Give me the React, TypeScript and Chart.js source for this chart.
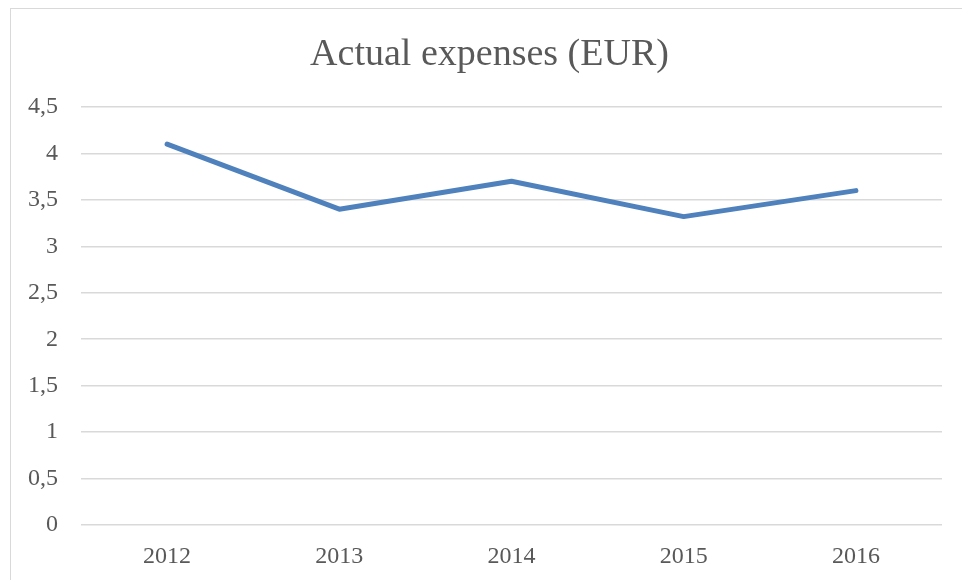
import React, { useEffect, useRef } from "react";
import { Chart, registerables } from "chart.js";

Chart.register(...registerables);

const categories = ["2012", "2013", "2014", "2015", "2016"];
const expenses = [4.1, 3.4, 3.7, 3.32, 3.6];
const titleText = "Actual expenses (EUR)";

const FONT = '"Liberation Serif", "Times New Roman", serif';
const TEXT = "#595959";
const GRID = "#d9d9d9";

// Title drawn centred over the chart frame (which begins at x=10 and runs past the image edge)
const titlePlugin = {
  id: "frameTitle",
  afterDraw(chart: any) {
    const ctx = chart.ctx;
    ctx.save();
    ctx.fillStyle = TEXT;
    ctx.font = `38px ${FONT}`;
    ctx.textAlign = "center";
    ctx.textBaseline = "alphabetic";
    const cx = (chart.chartArea.left + chart.chartArea.right) / 2 - 22;
    ctx.fillText(titleText, cx, 65);
    ctx.restore();
  },
};

export default function App() {
  const ref = useRef<HTMLCanvasElement | null>(null);

  useEffect(() => {
    if (!ref.current) return;
    const chart = new Chart(ref.current, {
      type: "line",
      data: {
        labels: categories,
        datasets: [
          {
            label: "Actual expenses",
            data: expenses,
            borderColor: "#4f81bd",
            backgroundColor: "#4f81bd",
            borderWidth: 5,
            pointRadius: 0,
            tension: 0,
            borderCapStyle: "round",
            borderJoinStyle: "round",
          },
        ],
      },
      plugins: [titlePlugin],
      options: {
        responsive: false,
        animation: false,
        layout: { padding: { left: 0, right: 20, top: 107, bottom: 0 } },
        plugins: {
          legend: { display: false },
          tooltip: { enabled: false },
          title: { display: false },
        },
        scales: {
          x: {
            offset: true,
            grid: { display: false, drawTicks: false },
            border: { display: false },
            ticks: {
              color: TEXT,
              font: { family: FONT, size: 24 },
              padding: 17,
              maxRotation: 0,
            },
            afterFit: (s: any) => {
              s.height = 55;
            },
          },
          y: {
            min: 0,
            max: 4.5,
            grid: { color: GRID, lineWidth: 1.5, drawTicks: false },
            border: { display: false },
            ticks: {
              stepSize: 0.5,
              color: TEXT,
              font: { family: FONT, size: 24 },
              padding: 23,
              callback: (v: any) => String(v).replace(".", ","),
            },
            afterFit: (s: any) => {
              s.width = 81;
            },
          },
        },
      },
    } as any);
    return () => chart.destroy();
  }, []);

  return (
    <div
      style={{
        position: "absolute",
        left: 0,
        top: 0,
        width: 962,
        height: 580,
        overflow: "hidden",
        background: "#fff",
      }}
    >
      <div
        style={{
          position: "absolute",
          left: 10,
          top: 8,
          width: 1000,
          height: 1000,
          border: "1.5px solid #d9d9d9",
        }}
      />
      <canvas
        ref={ref}
        width={962}
        height={580}
        style={{ position: "absolute", left: 0, top: 0 }}
      />
    </div>
  );
}
